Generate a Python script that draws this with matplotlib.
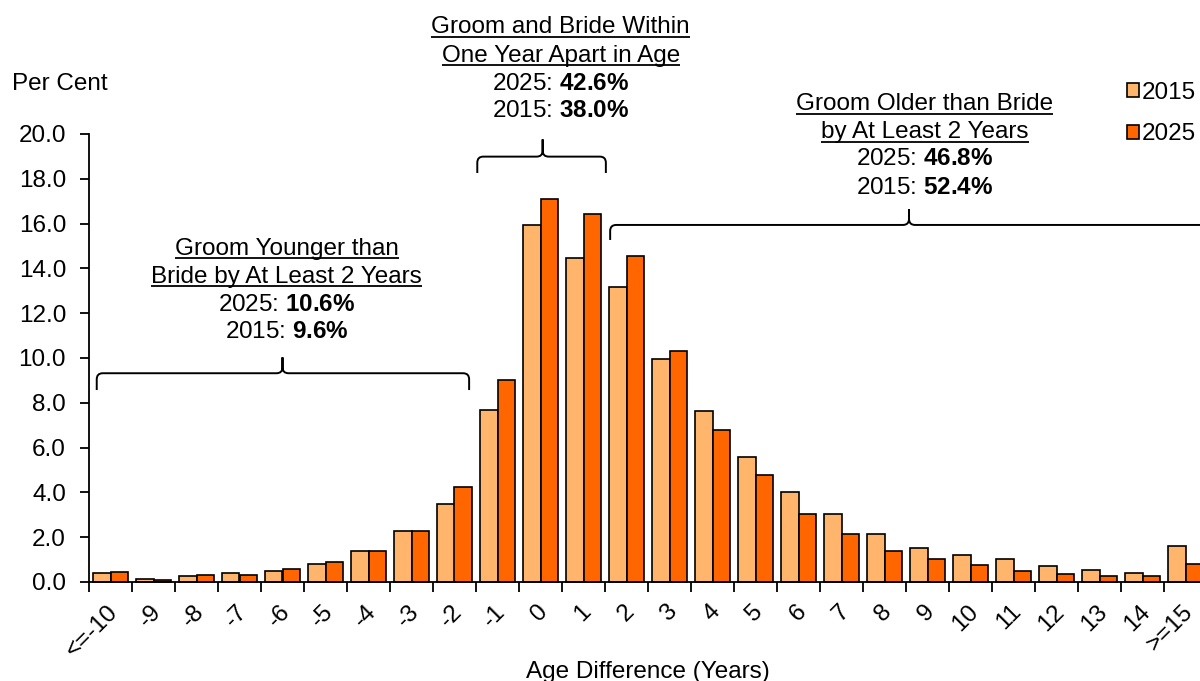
import numpy as np
import matplotlib
matplotlib.use('Agg')
import matplotlib.pyplot as plt
from matplotlib.path import Path
from matplotlib.patches import PathPatch, Patch
from matplotlib.transforms import ScaledTranslation

# age difference categories (groom age minus bride age)
categories = ['<=-10', '-9', '-8', '-7', '-6', '-5', '-4', '-3', '-2', '-1', '0', '1', '2',
              '3', '4', '5', '6', '7', '8', '9', '10', '11', '12', '13', '14', '>=15']
share_2015 = [0.40, 0.13, 0.26, 0.40, 0.49, 0.82, 1.37, 2.28, 3.48, 7.68, 15.95, 14.45, 13.17,
              9.96, 7.63, 5.58, 4.02, 3.02, 2.13, 1.53, 1.22, 1.04, 0.73, 0.55, 0.42, 1.62]
share_2025 = [0.45, 0.11, 0.30, 0.33, 0.58, 0.91, 1.37, 2.27, 4.24, 9.03, 17.12, 16.45, 14.55,
              10.33, 6.79, 4.78, 3.05, 2.16, 1.38, 1.01, 0.77, 0.49, 0.37, 0.25, 0.28, 0.79]

# summary groups: titles and totals
group_titles = [['Groom Younger than', 'Bride by At Least 2 Years'],
                ['Groom and Bride Within', 'One Year Apart in Age'],
                ['Groom Older than Bride', 'by At Least 2 Years']]
group_2025 = ['10.6', '42.6', '46.8']
group_2015 = ['9.6', '38.0', '52.4']

C2015 = '#FFB56B'
C2025 = '#FF6600'

plt.rcParams['font.family'] = ['Liberation Sans', 'DejaVu Sans']
plt.rcParams['mathtext.fontset'] = 'custom'
plt.rcParams['mathtext.rm'] = 'Liberation Sans'
plt.rcParams['mathtext.bf'] = 'Liberation Sans:bold'
FS = 17.5


def draw_bracket(ax, x0, x1, xc, y, y_end, y_tip, rx=0.14, ry=0.27):
  verts = [(x0, y_end), (x0, y - ry), (x0, y), (x0 + rx, y),
           (xc - rx, y), (xc, y), (xc, y + ry), (xc, y_tip), (xc, y + ry),
           (xc, y), (xc + rx, y), (x1 - rx, y), (x1, y), (x1, y - ry), (x1, y_end)]
  codes = [Path.MOVETO, Path.LINETO, Path.CURVE3, Path.CURVE3,
           Path.LINETO, Path.CURVE3, Path.CURVE3, Path.LINETO, Path.LINETO,
           Path.CURVE3, Path.CURVE3, Path.LINETO, Path.CURVE3, Path.CURVE3, Path.LINETO]
  ax.add_patch(PathPatch(Path(verts, codes), fill=False, lw=1.4, ec='black',
                         clip_on=False, capstyle='butt'))


fig = plt.figure(figsize=(12, 6.81), dpi=100)
ax = fig.add_axes([89/1200, 99/681, 1118/1200, 448/681])

x = np.arange(len(categories))
w = 0.4
ax.bar(x - w/2, share_2015, width=w, color=C2015, edgecolor='black', linewidth=1.2,
       label='2015', clip_on=False)
ax.bar(x + w/2, share_2025, width=w, color=C2025, edgecolor='black', linewidth=1.2,
       label='2025', clip_on=False)

ax.set_xlim(-0.5, len(categories) - 0.5)
ax.set_ylim(0, 20)
ax.set_yticks(np.arange(0, 20.1, 2))
ax.set_yticklabels(['%.1f' % v for v in np.arange(0, 20.1, 2)], fontsize=FS)
ax.set_xticks(x)
ax.set_xticklabels(categories, fontsize=FS, rotation=45, ha='right', va='center',
                   rotation_mode='anchor')
ax.set_xticks(np.arange(-0.5, len(categories)), minor=True)
ax.tick_params(axis='x', which='major', length=0, pad=19)
ax.tick_params(axis='x', which='minor', length=7.5, width=1.3, direction='out')
ax.tick_params(axis='y', length=6.5, width=1.3, direction='out', pad=10)
off = ScaledTranslation(3/72, 0, fig.dpi_scale_trans)
for lab in ax.get_xticklabels():
  lab.set_transform(lab.get_transform() + off)

for side in ['top', 'right']:
  ax.spines[side].set_visible(False)
for side in ['left', 'bottom']:
  ax.spines[side].set_linewidth(1.3)

fig.text(12/1200, 1 - 90/681, 'Per Cent', fontsize=FS, va='baseline', ha='left')
fig.text(648/1200, 3/681, 'Age Difference (Years)', fontsize=FS, va='baseline', ha='center')

# legend
handles = [Patch(facecolor=C2015, edgecolor='black', lw=1.2),
           Patch(facecolor=C2025, edgecolor='black', lw=1.2)]
fig.legend(handles, ['2015', '2025'], loc='upper left', bbox_to_anchor=(1127/1200, 1 - 82/681),
           fontsize=FS, frameon=False, handlelength=0.5, handleheight=0.5,
           handletextpad=0.12, labelspacing=0.8, borderpad=0, borderaxespad=0)

# brackets
draw_bracket(ax, -0.32, 8.34, 4.0, 9.32, 8.57, 10.03)
draw_bracket(ax, 8.53, 11.52, 10.05, 18.99, 18.26, 19.76)
draw_bracket(ax, 11.62, 25.6, 18.57, 15.94, 15.27, 16.64)

# annotation texts (baselines in data units)
centers = [4.10, 10.47, 18.94]
baselines = [[14.60, 13.36, 12.12, 10.88],
             [24.50, 23.23, 21.98, 20.74],
             [21.06, 19.81, 18.60, 17.31]]
title_texts = []
for cx, yb, titles, v25, v15 in zip(centers, baselines, group_titles, group_2025, group_2015):
  for t, yy in zip(titles, yb[:2]):
    txt = ax.text(cx, yy, t, fontsize=FS, ha='center', va='baseline', clip_on=False)
    title_texts.append((txt, yy))
  ax.text(cx, yb[2], '2025: $\\mathbf{%s\\%%}$' % v25, fontsize=FS, ha='center',
          va='baseline', clip_on=False)
  ax.text(cx, yb[3], '2015: $\\mathbf{%s\\%%}$' % v15, fontsize=FS, ha='center',
          va='baseline', clip_on=False)

# underline the titles
fig.canvas.draw()
renderer = fig.canvas.get_renderer()
inv = ax.transData.inverted()
for txt, yy in title_texts:
  bb = txt.get_window_extent(renderer)
  xa = inv.transform((bb.x0, 0))[0]
  xb = inv.transform((bb.x1, 0))[0]
  ax.plot([xa, xb], [yy - 0.15, yy - 0.15], color='black', lw=1.3, clip_on=False,
          solid_capstyle='butt')

fig.savefig('out.png', dpi=100)
